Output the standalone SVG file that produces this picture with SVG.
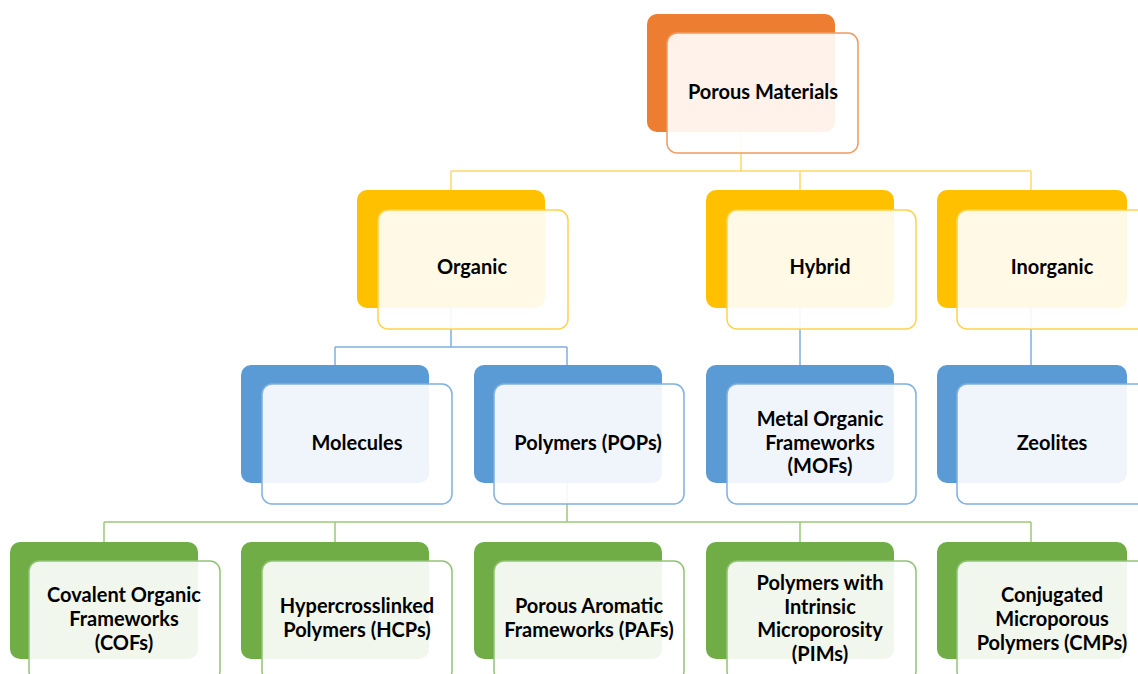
<svg xmlns="http://www.w3.org/2000/svg" width="1138" height="674" viewBox="0 0 1138 674">
<style>
.b{stroke:none}
.f{fill:#ffffff;fill-opacity:0.9;stroke-width:1.5}
.o .b{fill:#ED7D31}.o .f{stroke:#F19A60}
.y .b{fill:#FFC000}.y .f{stroke:#FFD24D}
.u .b{fill:#5B9BD5}.u .f{stroke:#7FB0DE}
.g .b{fill:#70AD47}.g .f{stroke:#93C274}
text{font-family:Lato,"Liberation Sans",sans-serif;font-weight:bold;font-size:20px;fill:#000;text-anchor:middle}
.cy{stroke:#FFD966;stroke-width:1.5;fill:none}
.cu{stroke:#7FB0DE;stroke-width:1.5;fill:none}
.cg{stroke:#9CC97E;stroke-width:1.5;fill:none}
</style>
<rect width="1138" height="674" fill="#ffffff"/>
<g id="connectors">
<path class="cy" d="M741 132V171M451 171H1031M451 171V190M800 171V190M1031 171V190"/>
<path class="cu" d="M451 308V347M335 347H567M335 347V365M567 347V365M800 308V365M1031 308V365"/>
<path class="cg" d="M567 483V522M104 522H1031M104 522V542M335 522V542M800 522V542M1031 522V542"/>
</g>
<g id="porous-materials" class="o">
<rect class="b" x="647" y="14" width="188" height="118" rx="10"/>
<rect class="f" x="667" y="33" width="191" height="120" rx="10"/>
<text x="763" y="99">Porous Materials</text>
</g>
<g id="organic" class="y">
<rect class="b" x="357" y="190" width="188" height="118" rx="10"/>
<rect class="f" x="378" y="210" width="190" height="119" rx="10"/>
<text x="472" y="274">Organic</text>
</g>
<g id="hybrid" class="y">
<rect class="b" x="706" y="190" width="188" height="118" rx="10"/>
<rect class="f" x="727" y="210" width="189" height="119" rx="10"/>
<text x="820" y="274">Hybrid</text>
</g>
<g id="inorganic" class="y">
<rect class="b" x="937" y="190" width="190" height="118" rx="10"/>
<rect class="f" x="957" y="210" width="190" height="119" rx="10"/>
<text x="1052" y="274">Inorganic</text>
</g>
<g id="molecules" class="u">
<rect class="b" x="241" y="365" width="188" height="118" rx="10"/>
<rect class="f" x="262" y="384" width="190" height="120" rx="10"/>
<text x="357" y="450">Molecules</text>
</g>
<g id="pops" class="u">
<rect class="b" x="474" y="365" width="188" height="118" rx="10"/>
<rect class="f" x="494" y="384" width="190" height="120" rx="10"/>
<text x="588" y="450">Polymers (POPs)</text>
</g>
<g id="mofs" class="u">
<rect class="b" x="706" y="365" width="188" height="118" rx="10"/>
<rect class="f" x="727" y="384" width="189" height="120" rx="10"/>
<text x="820" y="426">Metal Organic</text>
<text x="820" y="450">Frameworks</text>
<text x="820" y="473">(MOFs)</text>
</g>
<g id="zeolites" class="u">
<rect class="b" x="937" y="365" width="190" height="118" rx="10"/>
<rect class="f" x="957" y="384" width="190" height="120" rx="10"/>
<text x="1052" y="450">Zeolites</text>
</g>
<g id="cofs" class="g">
<rect class="b" x="10" y="542" width="188" height="117" rx="10"/>
<rect class="f" x="29" y="561" width="191" height="120" rx="10"/>
<text x="124" y="602">Covalent Organic</text>
<text x="124" y="626">Frameworks</text>
<text x="124" y="650">(COFs)</text>
</g>
<g id="hcps" class="g">
<rect class="b" x="241" y="542" width="188" height="117" rx="10"/>
<rect class="f" x="262" y="561" width="190" height="120" rx="10"/>
<text x="357" y="613">Hypercrosslinked</text>
<text x="357" y="637">Polymers (HCPs)</text>
</g>
<g id="pafs" class="g">
<rect class="b" x="474" y="542" width="188" height="117" rx="10"/>
<rect class="f" x="494" y="561" width="190" height="120" rx="10"/>
<text x="589" y="613">Porous Aromatic</text>
<text x="589" y="637">Frameworks (PAFs)</text>
</g>
<g id="pims" class="g">
<rect class="b" x="706" y="542" width="188" height="117" rx="10"/>
<rect class="f" x="727" y="561" width="189" height="120" rx="10"/>
<text x="820" y="590">Polymers with</text>
<text x="820" y="614">Intrinsic</text>
<text x="820" y="637">Microporosity</text>
<text x="820" y="661">(PIMs)</text>
</g>
<g id="cmps" class="g">
<rect class="b" x="937" y="542" width="190" height="117" rx="10"/>
<rect class="f" x="957" y="561" width="190" height="120" rx="10"/>
<text x="1052" y="602">Conjugated</text>
<text x="1052" y="626">Microporous</text>
<text x="1052" y="650">Polymers (CMPs)</text>
</g>
</svg>
